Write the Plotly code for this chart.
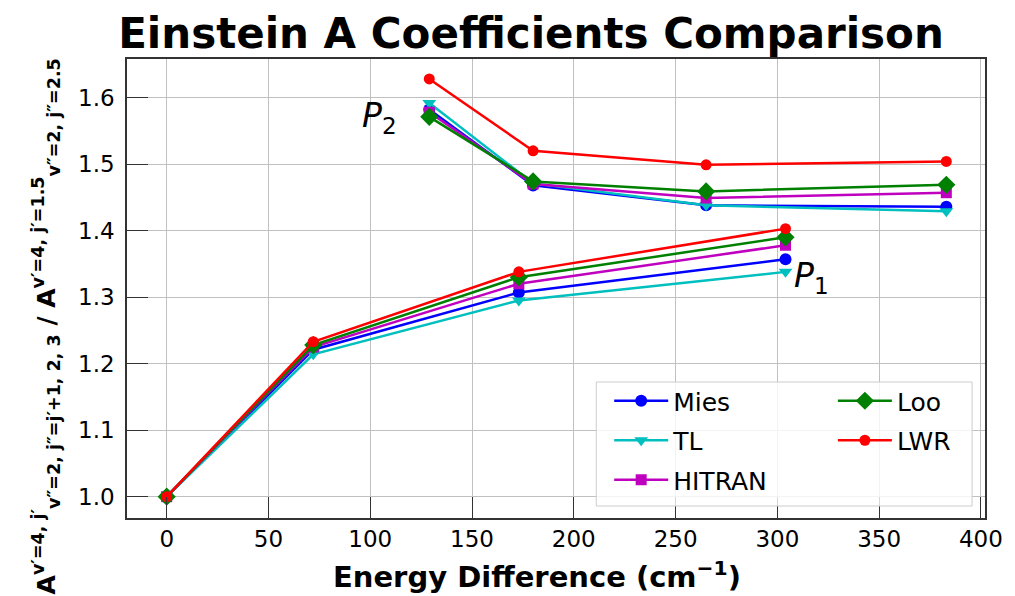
import plotly.graph_objects as go

# P1 branch (lower) and P2 branch (upper) energy differences
x_p1 = [0, 72, 173, 304]
x_p2 = [129, 180, 265, 383]

series_names = ["Mies", "TL", "HITRAN", "Loo", "LWR"]
p1_vals = {
    "Mies":   [1.0, 1.221, 1.307, 1.357],
    "TL":     [1.0, 1.214, 1.295, 1.338],
    "HITRAN": [1.0, 1.225, 1.320, 1.378],
    "Loo":    [1.0, 1.228, 1.330, 1.390],
    "LWR":    [1.0, 1.233, 1.338, 1.403],
}
p2_vals = {
    "Mies":   [1.582, 1.468, 1.438, 1.436],
    "TL":     [1.592, 1.471, 1.438, 1.429],
    "HITRAN": [1.578, 1.470, 1.449, 1.457],
    "Loo":    [1.571, 1.474, 1.459, 1.469],
    "LWR":    [1.628, 1.520, 1.499, 1.504],
}
colors = {"Mies": "#0000ff", "TL": "#00bfbf", "HITRAN": "#bf00bf", "Loo": "#008000", "LWR": "#ff0000"}
symbols = {"Mies": "circle", "TL": "triangle-down", "HITRAN": "square", "Loo": "diamond", "LWR": "circle"}
msizes = {"Mies": 12, "TL": 12, "HITRAN": 11, "Loo": 14, "LWR": 11}
legend_ref = {"Mies": "legend", "TL": "legend", "HITRAN": "legend", "Loo": "legend2", "LWR": "legend2"}

title_text = "<b>Einstein A Coefficients Comparison</b>"
xlabel_text = "<b>Energy Difference (cm<sup>−1</sup>)</b>"
ylabel_text = ("<b>A<sup>v′=4, j′</sup><sub>v″=2, j″=j′+1, 2, 3</sub> / "
               "A<sup>v′=4, j′=1.5</sup><sub>v″=2, j″=2.5</sub></b>")

FONT = "DejaVu Sans"
W, H = 1007, 588
L, T, R, B = 119, 51, 25, 78
PW, PH = W - L - R, H - T - B


def px(xf):
    return (xf - L) / PW


def py(yf):
    return (H - B - yf) / PH


fig = go.Figure()
for name in series_names:
    for k, (xs, ys) in enumerate([(x_p1, p1_vals[name]), (x_p2, p2_vals[name])]):
        fig.add_trace(go.Scatter(
            x=xs, y=ys, mode="lines+markers", name=name,
            line=dict(color=colors[name], width=2.5),
            marker=dict(symbol=symbols[name], size=msizes[name], color=colors[name]),
            legendgroup=name, showlegend=(k == 0), legend=legend_ref[name],
        ))

fig.add_annotation(x=104.5, y=1.570, text="<i>P</i><sub>2</sub>", showarrow=False,
                   font=dict(size=33, color="black", family=FONT))
fig.add_annotation(x=317, y=1.329, text="<i>P</i><sub>1</sub>", showarrow=False,
                   font=dict(size=33, color="black", family=FONT))

# axis titles as annotations
fig.add_annotation(xref="paper", yref="paper", x=px(531), y=py(567), text=xlabel_text,
                   showarrow=False, xanchor="center", yanchor="middle",
                   font=dict(size=29, family=FONT, color="black"))
fig.add_annotation(xref="paper", yref="paper", x=px(38), y=py(318), text=ylabel_text,
                   textangle=-90, showarrow=False, xanchor="center", yanchor="middle",
                   font=dict(size=25, family=FONT, color="black"))

# legend frame
fig.add_shape(type="rect", xref="paper", yref="paper",
              x0=px(591), x1=px(969), y0=py(498), y1=py(374),
              line=dict(color="#cccccc", width=1), fillcolor="rgba(255,255,255,0.8)", layer="above")

leg_common = dict(bgcolor="rgba(0,0,0,0)", borderwidth=0, font=dict(size=25, family=FONT, color="black"),
                  traceorder="grouped", tracegroupgap=4, itemwidth=54, yanchor="top", xanchor="left")
fig.update_layout(
    width=W, height=H,
    margin=dict(l=L, r=R, t=T, b=B),
    plot_bgcolor="white", paper_bgcolor="white",
    font=dict(family=FONT, color="black"),
    title=dict(text=title_text, x=523 / W, xanchor="center",
               y=1 - 25 / H, yanchor="middle", font=dict(size=42, family=FONT, color="black")),
    legend=dict(x=px(604), y=py(370), **leg_common),
    legend2=dict(x=px(829), y=py(370), **leg_common),
    xaxis=dict(range=[-19.5, 402], tickvals=[0, 50, 100, 150, 200, 250, 300, 350, 400],
               showgrid=True, gridcolor="#c0c0c0", gridwidth=1, zeroline=False,
               showline=True, linecolor="#333333", linewidth=1.5, mirror=True,
               ticks="inside", ticklen=21, tickcolor="#333333", tickwidth=1.2,
               tickfont=dict(size=23, family=FONT, color="black")),
    yaxis=dict(range=[0.968, 1.658], tickvals=[1.0, 1.1, 1.2, 1.3, 1.4, 1.5, 1.6],
               ticktext=["1.0", "1.1", "1.2", "1.3", "1.4", "1.5", "1.6"],
               showgrid=True, gridcolor="#c0c0c0", gridwidth=1, zeroline=False,
               showline=True, linecolor="#333333", linewidth=1.5, mirror=True,
               ticks="inside", ticklen=21, tickcolor="#333333", tickwidth=1.2,
               ticklabelstandoff=6,
               tickfont=dict(size=23, family=FONT, color="black")),
)
fig.write_html("out.html")
